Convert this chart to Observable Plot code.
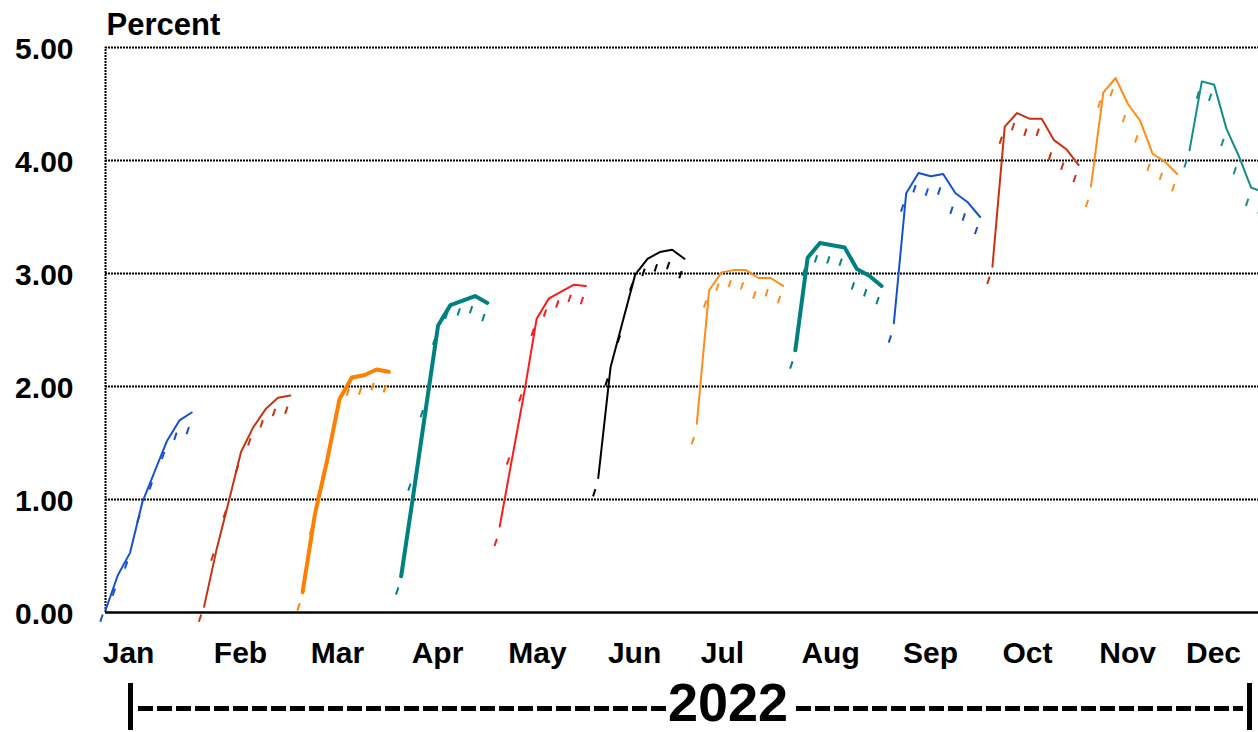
<!DOCTYPE html>
<html>
<head>
<meta charset="utf-8">
<script src="https://cdn.jsdelivr.net/npm/d3@7"></script>
<script src="https://cdn.jsdelivr.net/npm/@observablehq/plot@0.6"></script>
<style>
  html, body { margin: 0; padding: 0; background: #fff; }
  body { width: 1258px; height: 732px; overflow: hidden; font-family: "Liberation Sans", Arial, sans-serif; }
  #chart svg { display: block; }
  #year { position: relative; width: 1258px; height: 52px; }
  #year .bar { position: absolute; top: 3px; width: 5px; height: 47px; background: #000; }
  #year .dash { position: absolute; top: 26px; height: 5px;
    background: repeating-linear-gradient(to right, #000 0 15px, transparent 15px 19px); }
  #year .lbl { position: absolute; top: -5px; font-size: 54px; font-weight: bold; line-height: 54px; color: #000; }
</style>
</head>
<body>
<div id="chart"></div>
<div id="year">
  <div class="bar" style="left:128px"></div>
  <div class="dash" style="left:138px;width:528px"></div>
  <div class="lbl" style="left:668px">2022</div>
  <div class="dash" style="left:796px;width:447px"></div>
  <div class="bar" style="left:1247px"></div>
</div>
<script>
// ---- data ----
const months = ["Jan","Feb","Mar","Apr","May","Jun","Jul","Aug","Sep","Oct","Nov","Dec"];
// x-axis label positions (in point-index units)
const monthTicks = [1.87, 10.96, 18.83, 26.95, 35.07, 42.95, 50.09, 58.86, 66.97, 74.85, 82.97, 89.95];
const pointsPerMonth = 8;

// solid line: latest path for each month
const latest = [
  [0.02, 0.33, 0.53, 0.98, 1.25, 1.52, 1.70, 1.77],
  [0.05, 0.55, 0.98, 1.42, 1.64, 1.80, 1.90, 1.92],
  [0.18, 0.87, 1.35, 1.89, 2.08, 2.10, 2.15, 2.13],
  [0.32, 1.05, 1.80, 2.54, 2.72, 2.76, 2.80, 2.74],
  [0.76, 1.36, 1.95, 2.60, 2.78, 2.84, 2.90, 2.89],
  [1.19, 2.17, 2.58, 2.99, 3.13, 3.19, 3.21, 3.13],
  [1.67, 2.85, 3.01, 3.03, 3.03, 2.96, 2.96, 2.89],
  [2.32, 3.14, 3.27, 3.25, 3.23, 3.04, 2.98, 2.89],
  [2.56, 3.71, 3.89, 3.86, 3.88, 3.71, 3.63, 3.50],
  [3.06, 4.30, 4.42, 4.37, 4.37, 4.18, 4.10, 3.96],
  [3.77, 4.60, 4.73, 4.50, 4.35, 4.06, 3.99, 3.88],
  [4.09, 4.70, 4.67, 4.28, 4.04, 3.76, 3.72]
];
// dash marks: earlier path for each month
const prior = [
  [-0.05, 0.18, 0.42, 0.83, 1.12, 1.39, 1.56, 1.61],
  [-0.05, 0.49, 0.87, 1.27, 1.51, 1.67, 1.77, 1.79],
  [0.05, 0.72, 1.22, 1.75, 1.95, 1.96, 2.00, 1.98],
  [0.19, 1.11, 1.76, 2.40, 2.63, 2.66, 2.68, 2.61],
  [0.62, 1.34, 1.90, 2.48, 2.65, 2.73, 2.78, 2.76],
  [1.06, 2.04, 2.42, 2.88, 3.01, 3.05, 3.07, 2.99],
  [1.52, 2.73, 2.88, 2.91, 2.89, 2.81, 2.83, 2.77],
  [2.19, 3.01, 3.13, 3.12, 3.10, 2.89, 2.83, 2.76],
  [2.42, 3.58, 3.75, 3.72, 3.73, 3.56, 3.50, 3.38],
  [2.94, 4.18, 4.30, 4.25, 4.25, 4.04, 3.95, 3.84],
  [3.62, 4.50, 4.60, 4.37, 4.19, 3.94, 3.86, 3.76],
  [3.97, 4.58, 4.56, 4.16, 3.91, 3.63, 3.56]
];
const yTicks = [0, 1, 2, 3, 4, 5];

// ---- styles ----
const colors = ["#1450d0","#c8330f","#ff8000","#008080","#ff1a1a","#000000",
                "#ff8c1a","#008080","#1450d0","#c8330f","#ff8c1a","#128c8c"];
const widths = [2,2,4,4,2,2,2,4,2,2,2,2];

function rows(series) {
  const out = [];
  series.forEach((vals, m) => vals.forEach((v, k) => out.push({month: months[m], idx: m * pointsPerMonth + k, value: v})));
  return out;
}
const latestRows = rows(latest);
const priorRows = rows(prior);

const slash = {
  draw(context) {
    context.moveTo(-1.2, 3.6);
    context.lineTo(1.2, -3.6);
  }
};

const marks = [
  Plot.ruleY(yTicks.filter(d => d > 0), {stroke: "#000", strokeWidth: 2, strokeDasharray: "2,1"}),
  Plot.ruleY([0], {stroke: "#000", strokeWidth: 2.4}),
  Plot.ruleX([0], {y1: 0, y2: 5, stroke: "#000", strokeWidth: 2, strokeDasharray: "2,1"})
];
months.forEach((mo, m) => {
  marks.push(Plot.dot(priorRows.filter(d => d.month === mo), {
    x: "idx", y: "value", symbol: slash, r: 4, dx: -4,
    fill: "none", stroke: colors[m], strokeWidth: 2
  }));
  marks.push(Plot.line(latestRows.filter(d => d.month === mo), {
    x: "idx", y: "value", stroke: colors[m], strokeWidth: widths[m]
  }));
});
marks.push(
  Plot.axisY({ticks: yTicks, tickFormat: d3.format(".2f"), tickSize: 0, tickPadding: 32,
    fontSize: 30, fontWeight: "bold", label: null, dy: 2}),
  Plot.axisX({ticks: monthTicks, tickFormat: (d, i) => months[i], tickSize: 0, tickPadding: 29,
    fontSize: 30, fontWeight: "bold", label: null}),
  Plot.text(["Percent"], {frameAnchor: "top-left", text: d => d, dx: 1, dy: -35, textAnchor: "start",
    fontSize: 31, fontWeight: "bold", fill: "#000"})
);

const chart = Plot.plot({
  width: 1258,
  height: 680,
  marginLeft: 105,
  marginRight: 0,
  marginTop: 47,
  marginBottom: 68,
  style: {fontFamily: "'Liberation Sans', Arial, sans-serif", color: "#000", background: "#fff", overflow: "hidden"},
  x: {domain: [0, 93.6]},
  y: {domain: [0, 5]},
  marks
});
document.getElementById("chart").append(chart);
</script>
</body>
</html>
